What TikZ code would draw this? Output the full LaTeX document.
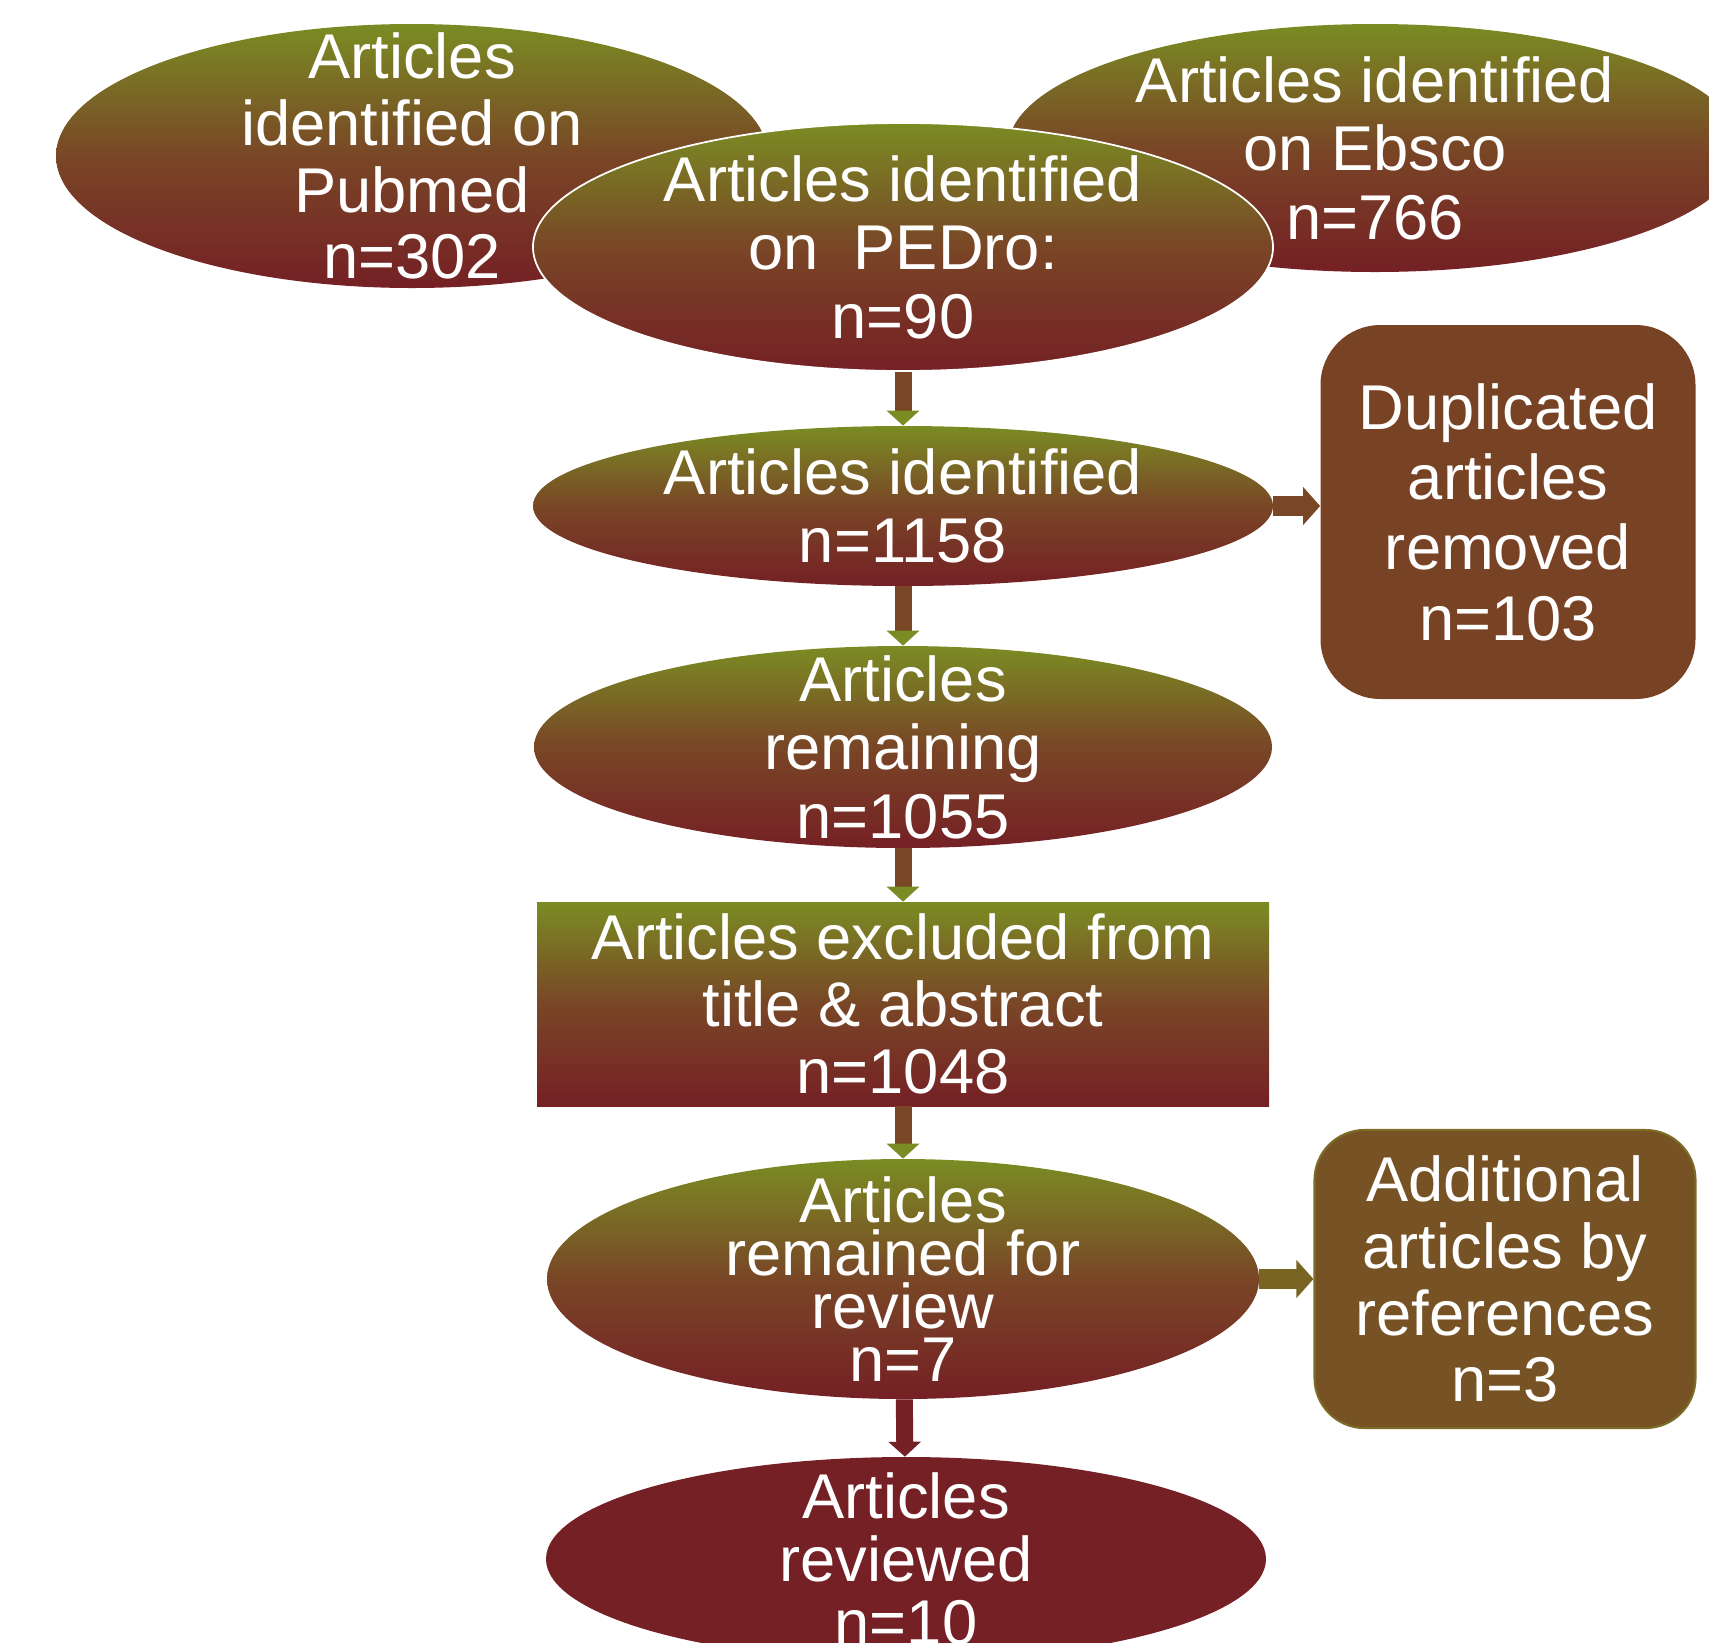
\documentclass[tikz,border=0pt]{standalone}
\usepackage{fontspec}
\setmainfont{Liberation Sans}
\usetikzlibrary{positioning, arrows.meta, shapes.geometric}

\definecolor{topgreen}{RGB}{122,140,35}
\definecolor{midbrown}{RGB}{121,70,38}
\definecolor{botred}{RGB}{117,32,37}
\definecolor{dupbrown}{RGB}{120,66,37}
\definecolor{addbrown}{RGB}{118,82,36}
\definecolor{addedge}{RGB}{125,108,40}
\definecolor{arrowolive}{RGB}{122,100,35}

\begin{document}
\begin{tikzpicture}[
    plainoval/.style={ellipse, inner xsep=0pt, inner ysep=-0.8cm, align=center, text=white,
                 font=\fontsize{36}{39}\selectfont},
    oval/.style={plainoval, top color=topgreen, bottom color=botred, middle color=midbrown},
    shadebox/.style={rectangle, inner sep=0pt, align=center, text=white,
                 top color=topgreen, bottom color=botred, middle color=midbrown,
                 font=\fontsize{36}{38}\selectfont},
    sidebox/.style={rectangle, inner sep=0pt, align=center, text=white,
                 font=\fontsize{36}{40}\selectfont},
    varrow/.style={-{Triangle[length=0.3cm, width=0.64cm, color=topgreen]},
                 line width=0.34cm, draw=midbrown},
    harrow/.style={-{Triangle[length=0.34cm, width=0.74cm]}, line width=0.4cm}
]
    \useasboundingbox (0,0) rectangle (34.18,-32.84);
    \clip (0,0) rectangle (34.18,-32.84);

    % Sources
    \node[oval, minimum width=14.24cm, minimum height=5.28cm,
          font=\fontsize{36}{38}\selectfont] (pubmed) at (8.24,-3.12)
        {Articles\\identified on\\Pubmed\\n=302};
    \node[oval, minimum width=14.68cm, minimum height=4.96cm] (ebsco) at (27.5,-2.96)
        {Articles identified\\on Ebsco\\n=766};
    \node[oval, minimum width=14.8cm, minimum height=4.96cm, draw=white, line width=1pt]
        (pedro) at (18.06,-4.94) {Articles identified\\on\ \ PEDro:\\n=90};

    % Main column
    \node[oval, minimum width=14.8cm, minimum height=3.2cm] (ident) at (18.06,-10.12)
        {Articles identified\\n=1158};
    \node[oval, minimum width=14.76cm, minimum height=4.04cm] (remain) at (18.06,-14.94)
        {Articles\\remaining\\n=1055};
    \node[shadebox, minimum width=14.64cm, minimum height=4.08cm] (excl) at (18.06,-20.08)
        {Articles excluded from\\title \& abstract\\n=1048};
    \node[oval, minimum width=14.24cm, minimum height=4.8cm,
          font=\fontsize{36}{30}\selectfont] (review) at (18.06,-25.58)
        {Articles\\remained for\\review\\n=7};
    \node[plainoval, minimum width=14.4cm, minimum height=4.08cm, fill=botred,
          font=\fontsize{36}{36}\selectfont] (reviewed) at (18.12,-31.18)
        {Articles\\reviewed\\n=10};

    % Side boxes
    \node[sidebox, fill=dupbrown, rounded corners=1.2cm, minimum width=7.5cm,
          minimum height=7.48cm] (dup) at (30.16,-10.24)
        {Duplicated\\articles\\removed\\n=103};
    \node[sidebox, fill=addbrown, draw=addedge, line width=1.2pt, rounded corners=1cm,
          minimum width=7.62cm, minimum height=5.96cm,
          font=\fontsize{36}{38}\selectfont] (add) at (30.1,-25.58)
        {Additional\\articles by\\references\\n=3};

    % Arrows
    \draw[varrow] (pedro) -- (ident);
    \draw[varrow] (ident) -- (remain);
    \draw[varrow] (remain) -- (excl);
    \draw[varrow] (excl) -- (review);
    \draw[varrow, draw=botred, -{Triangle[length=0.3cm, width=0.64cm, color=botred]}]
        (review) -- (reviewed);
    \draw[harrow, draw=midbrown] (ident.east) -- (ident.east -| dup.west);
    \draw[harrow, draw=arrowolive] (review.east) -- (review.east -| add.west);

\end{tikzpicture}
\end{document}
